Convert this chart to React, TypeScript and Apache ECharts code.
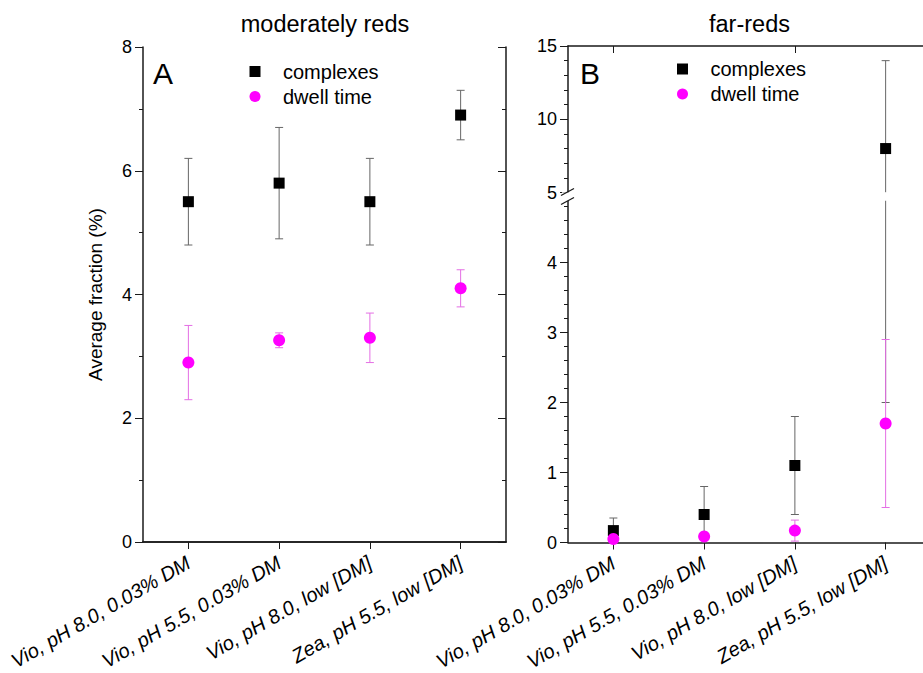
import React, { useEffect, useRef } from "react";
import * as echarts from "echarts";

const categories = [
  "Vio, pH 8.0, 0.03% DM",
  "Vio, pH 5.5, 0.03% DM",
  "Vio, pH 8.0, low [DM]",
  "Zea, pH 5.5, low [DM]",
];

// moderately reds (panel A)
const modComplexes = [5.5, 5.8, 5.5, 6.9];
const modComplexesLow = [4.8, 4.9, 4.8, 6.5];
const modComplexesHigh = [6.2, 6.7, 6.2, 7.3];
const modDwell = [2.9, 3.26, 3.3, 4.1];
const modDwellLow = [2.3, 3.14, 2.9, 3.8];
const modDwellHigh = [3.5, 3.38, 3.7, 4.4];

// far-reds (panel B)
const farComplexes = [0.17, 0.4, 1.1, 8.0];
const farComplexesLow = [0.0, 0.0, 0.4, 2.0];
const farComplexesHigh = [0.35, 0.8, 1.8, 14.0];
const farDwell = [0.05, 0.085, 0.17, 1.7];
const farDwellLow = [0.02, 0.05, 0.02, 0.5];
const farDwellHigh = [0.08, 0.12, 0.32, 2.9];

const titles = ["moderately reds", "far-reds"];
const panelLetters = ["A", "B"];
const yAxisName = "Average fraction (%)";
const seriesNames = ["complexes", "dwell time"];

const FONT = "'Liberation Sans', Arial, Helvetica, sans-serif";
const AXIS_COLOR = "#1a1a1a";
const SQUARE_COLOR = "#000000";
const CIRCLE_COLOR = "#ff00ff";
const SQUARE_ERR = "#666666";
const CIRCLE_ERR = "#e46ee4";
const SQUARE_ICON = "path://M0,0L10,0L10,10L0,10Z";

function errData(low: number[], high: number[]) {
  return low.map((l, i) => [i, l, high[i]]);
}

function errRender(color: string) {
  return (params: any, api: any) => {
    const i = api.value(0);
    const lo = api.value(1);
    const hi = api.value(2);
    const p1 = api.coord([i, lo]);
    const p2 = api.coord([i, hi]);
    const w = 4;
    const style = { stroke: color, lineWidth: 1 };
    return {
      type: "group",
      children: [
        { type: "line", shape: { x1: p1[0], y1: p1[1], x2: p2[0], y2: p2[1] }, style },
        { type: "line", shape: { x1: p1[0] - w, y1: p1[1], x2: p1[0] + w, y2: p1[1] }, style },
        { type: "line", shape: { x1: p2[0] - w, y1: p2[1], x2: p2[0] + w, y2: p2[1] }, style },
      ],
    };
  };
}

function pairData(vals: number[]) {
  return vals.map((v, i) => [i, v]);
}

export default function App() {
  const ref = useRef<HTMLDivElement>(null);

  useEffect(() => {
    if (!ref.current) return;
    const chart = echarts.init(ref.current, undefined, { renderer: "svg" });

    const axisLine = { show: true, lineStyle: { color: AXIS_COLOR, width: 1.5 } };
    const labelStyle = { color: "#000", fontSize: 18, fontFamily: FONT };

    const xBottom = (gridIndex: number) => ({
      type: "category",
      gridIndex,
      data: categories,
      position: "bottom",
      boundaryGap: true,
      axisLine,
      axisTick: { show: true, alignWithLabel: true, length: 7, lineStyle: { color: AXIS_COLOR, width: 1 } },
      axisLabel: {
        ...labelStyle,
        fontSize: 20,
        interval: 0,
        rotate: 30,
        fontStyle: "italic",
        margin: 19,
      },
      splitLine: { show: false },
    });
    const xTop = (gridIndex: number) => ({
      type: "category",
      gridIndex,
      data: categories,
      position: "top",
      boundaryGap: true,
      axisLine,
      axisTick: { show: true, inside: true, alignWithLabel: true, length: 7, lineStyle: { color: AXIS_COLOR, width: 1 } },
      axisLabel: { show: false },
      splitLine: { show: false },
    });

    const yBase = (gridIndex: number, min: number, max: number, interval: number, minorSplit: number) => ({
      type: "value",
      gridIndex,
      min,
      max,
      interval,
      axisLine,
      axisTick: { show: true, length: 8, lineStyle: { color: AXIS_COLOR, width: 1 } },
      minorTick: { show: true, splitNumber: minorSplit, length: 4, lineStyle: { color: AXIS_COLOR, width: 1 } },
      axisLabel: { ...labelStyle, margin: 11 },
      splitLine: { show: false },
      minorSplitLine: { show: false },
    });

    const legendBase = {
      orient: "vertical",
      padding: 0,
      itemWidth: 46,
      itemHeight: 11,
      itemGap: 5,
      selectedMode: false,
      textStyle: { fontSize: 20, color: "#000", fontFamily: FONT },
    };

    const option: any = {
      animation: false,
      backgroundColor: "#ffffff",
      textStyle: { fontFamily: FONT },
      title: [
        {
          text: titles[0],
          left: 325,
          top: 12,
          textAlign: "center",
          padding: 0,
          textStyle: { fontSize: 23.5, fontWeight: "normal", color: "#000", fontFamily: FONT },
        },
        {
          text: titles[1],
          left: 749.5,
          top: 12,
          textAlign: "center",
          padding: 0,
          textStyle: { fontSize: 23.5, fontWeight: "normal", color: "#000", fontFamily: FONT },
        },
      ],
      legend: [
        {
          ...legendBase,
          left: 249.5,
          top: 61.5,
          data: [
            { name: seriesNames[0], icon: SQUARE_ICON },
            { name: seriesNames[1], icon: "circle" },
          ],
        },
        {
          ...legendBase,
          left: 677,
          top: 59,
          data: [
            { name: seriesNames[0], icon: SQUARE_ICON },
            { name: seriesNames[1], icon: "circle" },
          ],
        },
      ],
      grid: [
        { left: 143, top: 47, width: 363, height: 495, outerBoundsMode: "none", containLabel: false },
        { left: 568, top: 46, width: 363, height: 146.5, outerBoundsMode: "none", containLabel: false },
        { left: 568, top: 192.5, width: 363, height: 350, outerBoundsMode: "none", containLabel: false },
      ],
      xAxis: [xBottom(0), xTop(0), xTop(1), xBottom(2)],
      yAxis: [
        {
          ...yBase(0, 0, 8, 2, 2),
          position: "left",
          name: yAxisName,
          nameLocation: "middle",
          nameGap: 38,
          nameTextStyle: { fontSize: 19, color: "#000", fontFamily: FONT },
        },
        {
          ...yBase(0, 0, 8, 2, 2),
          position: "right",
          axisTick: { show: true, inside: true, length: 8, lineStyle: { color: AXIS_COLOR, width: 1 } },
          axisLabel: { show: false },
        },
        { ...yBase(1, 5, 15, 5, 5), position: "left" },
        {
          ...yBase(2, 0, 5, 1, 5),
          position: "left",
          axisLabel: { ...labelStyle, margin: 11, formatter: (v: number) => (v === 5 ? "" : String(v)) },
        },
      ],
      graphic: [
        {
          type: "text",
          left: 153,
          top: 58,
          style: { text: panelLetters[0], fontSize: 30, fill: "#000", fontFamily: FONT },
        },
        {
          type: "text",
          left: 580,
          top: 58,
          style: { text: panelLetters[1], fontSize: 30, fill: "#000", fontFamily: FONT },
        },
        {
          type: "rect",
          z: 100,
          shape: { x: 562, y: 192.2, width: 380, height: 8.5 },
          style: { fill: "#ffffff" },
        },
        {
          type: "line",
          z: 101,
          shape: { x1: 561, y1: 195.5, x2: 574, y2: 188.5 },
          style: { stroke: AXIS_COLOR, lineWidth: 1.3 },
        },
        {
          type: "line",
          z: 101,
          shape: { x1: 561, y1: 204.5, x2: 574, y2: 197.5 },
          style: { stroke: AXIS_COLOR, lineWidth: 1.3 },
        },
      ],
      series: [
        // Panel A
        {
          type: "custom",
          name: "complexes err A",
          xAxisIndex: 0,
          yAxisIndex: 0,
          renderItem: errRender(SQUARE_ERR),
          encode: { x: 0, y: [1, 2] },
          data: errData(modComplexesLow, modComplexesHigh),
          clip: true,
          silent: true,
        },
        {
          type: "custom",
          name: "dwell err A",
          xAxisIndex: 0,
          yAxisIndex: 0,
          renderItem: errRender(CIRCLE_ERR),
          encode: { x: 0, y: [1, 2] },
          data: errData(modDwellLow, modDwellHigh),
          clip: true,
          silent: true,
        },
        {
          type: "scatter",
          name: seriesNames[0],
          xAxisIndex: 0,
          yAxisIndex: 0,
          symbol: "rect",
          symbolSize: 11,
          itemStyle: { color: SQUARE_COLOR, opacity: 1 },
          data: pairData(modComplexes),
        },
        {
          type: "scatter",
          name: seriesNames[1],
          xAxisIndex: 0,
          yAxisIndex: 0,
          symbol: "circle",
          symbolSize: 12,
          itemStyle: { color: CIRCLE_COLOR, opacity: 1 },
          data: pairData(modDwell),
        },
        // Panel B upper segment
        {
          type: "custom",
          name: "complexes err B1",
          xAxisIndex: 2,
          yAxisIndex: 2,
          renderItem: errRender(SQUARE_ERR),
          encode: { x: 0, y: [1, 2] },
          data: errData(farComplexesLow, farComplexesHigh),
          clip: true,
          silent: true,
        },
        {
          type: "scatter",
          name: seriesNames[0],
          xAxisIndex: 2,
          yAxisIndex: 2,
          symbol: "rect",
          symbolSize: 11,
          itemStyle: { color: SQUARE_COLOR, opacity: 1 },
          clip: true,
          data: pairData(farComplexes).filter((d) => d[1] >= 5),
        },
        // Panel B lower segment
        {
          type: "custom",
          name: "complexes err B2",
          xAxisIndex: 3,
          yAxisIndex: 3,
          renderItem: errRender(SQUARE_ERR),
          encode: { x: 0, y: [1, 2] },
          data: errData(farComplexesLow, farComplexesHigh),
          clip: true,
          silent: true,
        },
        {
          type: "custom",
          name: "dwell err B2",
          xAxisIndex: 3,
          yAxisIndex: 3,
          renderItem: errRender(CIRCLE_ERR),
          encode: { x: 0, y: [1, 2] },
          data: errData(farDwellLow, farDwellHigh),
          clip: true,
          silent: true,
        },
        {
          type: "scatter",
          name: seriesNames[0],
          xAxisIndex: 3,
          yAxisIndex: 3,
          symbol: "rect",
          symbolSize: 11,
          itemStyle: { color: SQUARE_COLOR, opacity: 1 },
          data: pairData(farComplexes).filter((d) => d[1] < 5),
        },
        {
          type: "scatter",
          name: seriesNames[1],
          xAxisIndex: 3,
          yAxisIndex: 3,
          symbol: "circle",
          symbolSize: 12,
          itemStyle: { color: CIRCLE_COLOR, opacity: 1 },
          data: pairData(farDwell),
        },
      ],
    };

    chart.setOption(option);
    return () => chart.dispose();
  }, []);

  return (
    <div
      ref={ref}
      style={{ position: "absolute", left: 0, top: 0, width: 923, height: 673, overflow: "hidden" }}
    />
  );
}
